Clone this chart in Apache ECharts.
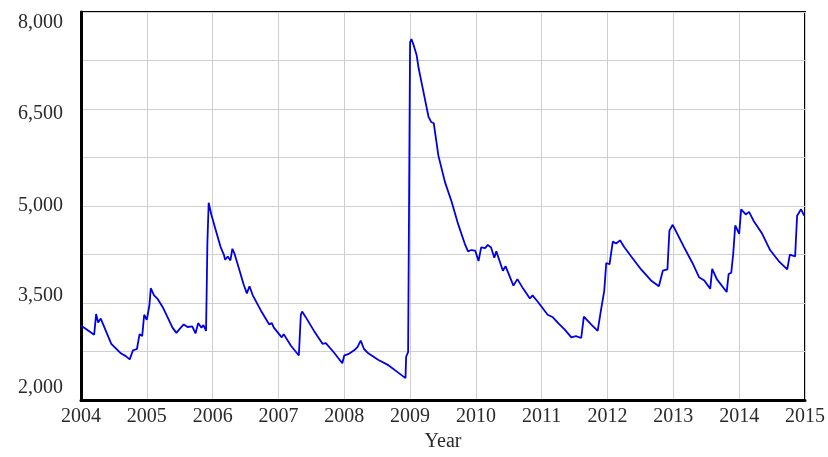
<!DOCTYPE html>
<html>
<head>
<meta charset="utf-8">
<script src="https://cdn.jsdelivr.net/npm/echarts@6/dist/echarts.min.js"></script>
<style>
  html, body { margin: 0; padding: 0; background: #fff; }
  #chart { width: 828px; height: 457px; }
</style>
</head>
<body>
<div id="chart"></div>
<script>
// time axis in decimal years
const years = [
  2004.00, 2004.06, 2004.20, 2004.23, 2004.26, 2004.30, 2004.46, 2004.61, 2004.68, 2004.74,
  2004.79, 2004.85, 2004.89, 2004.93, 2004.96, 2005.00, 2005.04, 2005.06, 2005.11, 2005.16,
  2005.24, 2005.32, 2005.39, 2005.45, 2005.49, 2005.56, 2005.62, 2005.69, 2005.74, 2005.78,
  2005.83, 2005.86, 2005.90, 2005.91, 2005.92, 2005.94, 2005.98, 2006.05, 2006.12, 2006.17,
  2006.19, 2006.23, 2006.27, 2006.30, 2006.33, 2006.41, 2006.47, 2006.52, 2006.56, 2006.61,
  2006.64, 2006.73, 2006.86, 2006.90, 2006.93, 2007.05, 2007.08, 2007.19, 2007.31, 2007.34,
  2007.36, 2007.41, 2007.54, 2007.67, 2007.72, 2007.84, 2007.97, 2008.00, 2008.06, 2008.15,
  2008.20, 2008.22, 2008.25, 2008.30, 2008.37, 2008.52, 2008.67, 2008.80, 2008.93, 2008.94,
  2008.97, 2008.995, 2009.00, 2009.02, 2009.04, 2009.05, 2009.10, 2009.13, 2009.18, 2009.23,
  2009.28, 2009.32, 2009.36, 2009.43, 2009.53, 2009.63, 2009.73, 2009.83, 2009.88, 2009.93,
  2009.99, 2010.04, 2010.08, 2010.14, 2010.18, 2010.23, 2010.28, 2010.31, 2010.41, 2010.45,
  2010.57, 2010.63, 2010.72, 2010.82, 2010.86, 2010.94, 2011.09, 2011.17, 2011.25, 2011.35,
  2011.45, 2011.52, 2011.60, 2011.64, 2011.75, 2011.85, 2011.90, 2011.95, 2011.98, 2012.03,
  2012.08, 2012.13, 2012.19, 2012.25, 2012.36, 2012.51, 2012.66, 2012.78, 2012.84, 2012.91,
  2012.94, 2012.99, 2013.06, 2013.16, 2013.29, 2013.39, 2013.47, 2013.56, 2013.59, 2013.66,
  2013.81, 2013.84, 2013.88, 2013.91, 2013.94, 2014.00, 2014.03, 2014.10, 2014.15, 2014.22,
  2014.35, 2014.47, 2014.60, 2014.73, 2014.77, 2014.85, 2014.88, 2014.91, 2014.94, 2014.99
];
const values = [
  3150, 3110, 3010, 3330, 3200, 3260, 2870, 2720, 2680, 2630,
  2770, 2790, 3020, 2990, 3320, 3240, 3470, 3730, 3620, 3570,
  3440, 3270, 3120, 3040, 3090, 3170, 3130, 3140, 3030, 3190,
  3120, 3160, 3070, 3720, 4420, 5050, 4870, 4620, 4370, 4250,
  4170, 4220, 4160, 4340, 4270, 4000, 3790, 3650, 3760, 3620,
  3640, 3390, 3170, 3190, 3120, 2970, 3020, 2840, 2690, 3320,
  3370, 3290, 3070, 2870, 2880, 2740, 2570, 2690, 2710, 2770,
  2820, 2790, 2920, 2790, 2720, 2620, 2540, 2440, 2340, 2670,
  2740, 2740, 7530, 7580, 7600, 7500, 7330, 7130, 6880, 6630,
  6380, 6300, 6280, 5780, 5370, 5070, 4720, 4420, 4300, 4320,
  4310, 4150, 4360, 4350, 4400, 4360, 4200, 4300, 4000, 4070,
  3770, 3870, 3720, 3570, 3620, 3520, 3320, 3280, 3190, 3090,
  2970, 2990, 2960, 3290, 3170, 3070, 3390, 3690, 4120, 4100,
  4450, 4420, 4470, 4370, 4220, 4020, 3850, 3760, 4000, 4020,
  4620, 4710, 4570, 4370, 4120, 3900, 3850, 3720, 4030, 3870,
  3670, 3950, 3970, 4270, 4700, 4570, 4950, 4870, 4910, 4770,
  4570, 4320, 4150, 4020, 4250, 4220, 4850, 4850, 4950, 4850
];

const yLabels = [2000, 3500, 5000, 6500, 8000];
// the reference squeezes its y labels a little toward the middle
const yLabelShift = { 2000: -12, 3500: -7, 5000: 0, 6500: 5, 8000: 11 };

const serif = '"Liberation Serif", "DejaVu Serif", serif';
const textColor = '#2a2a2a';

const rich = {};
yLabels.forEach(v => {
  const d = yLabelShift[v];
  rich['s' + v] = {
    fontFamily: serif, fontSize: 20, color: textColor,
    padding: d >= 0 ? [2 * d, 0, 0, 0] : [0, 0, -2 * d, 0]
  };
});

const chart = echarts.init(document.getElementById('chart'));
chart.setOption({
  animation: false,
  backgroundColor: '#fff',
  grid: {
    left: 81, right: 20, top: 12, bottom: 46,
    show: true, borderColor: '#000', borderWidth: 2
  },
  xAxis: {
    type: 'value', min: 2004, max: 2015, interval: 1,
    name: 'Year', nameLocation: 'middle', nameGap: 27,
    nameTextStyle: { fontFamily: serif, fontSize: 20, color: textColor },
    axisLine: { show: true, onZero: false, lineStyle: { color: '#000', width: 3 } },
    axisTick: { show: false },
    axisLabel: {
      fontFamily: serif, fontSize: 20, color: textColor, margin: 7,
      formatter: v => String(v)
    },
    splitLine: { show: true, lineStyle: { color: '#cfcfcf', width: 1 } }
  },
  yAxis: {
    type: 'value', min: 2000, max: 8000, interval: 750,
    axisLine: { show: true, onZero: false, lineStyle: { color: '#000', width: 3 } },
    axisTick: { show: false },
    axisLabel: {
      margin: 18,
      formatter: v => yLabels.includes(v) ? '{s' + v + '|' + v.toLocaleString('en-US') + '}' : '',
      rich: rich
    },
    splitLine: { show: true, lineStyle: { color: '#cfcfcf', width: 1 } }
  },
  series: [{
    type: 'line',
    data: years.map((y, i) => [y, values[i]]),
    showSymbol: false,
    lineStyle: { color: '#0000e6', width: 1.8 }
  }]
});
</script>
</body>
</html>
